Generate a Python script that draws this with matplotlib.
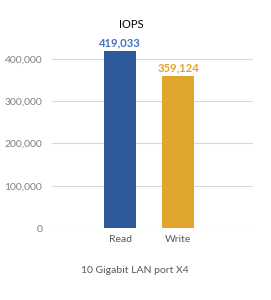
import matplotlib
matplotlib.use("Agg")
import matplotlib.pyplot as plt
from matplotlib.ticker import FuncFormatter

plt.rcParams['font.family'] = ['Lato', 'DejaVu Sans']

categories = ["Read", "Write"]
values = [419033, 359124]
bar_colors = ["#2E5A9C", "#E0A62C"]
label_colors = ["#4472C4", "#E3A22E"]
yticks = [0, 100000, 200000, 300000, 400000]

fig = plt.figure(figsize=(2.71, 3.0), dpi=100)
ax = fig.add_axes([0.192, 0.24, 0.742, 0.62])
x = list(range(len(categories)))
ax.bar(x, values, width=0.55, color=bar_colors, zorder=3)
for xi, v, c in zip(x, values, label_colors):
    ax.text(xi, v + 6000, f"{v:,}", ha="center", va="bottom", color=c,
            fontsize=8, fontweight="bold")
ax.set_xlim(-1.17, 2.29)
ax.set_ylim(0, 440000)
ax.set_yticks(yticks)
ax.yaxis.set_major_formatter(FuncFormatter(lambda v, p: f"{int(v):,}"))
ax.set_xticks(x)
ax.set_xticklabels(categories)
ax.tick_params(axis="both", length=0, labelsize=7.5, colors="#7F7F7F", labelcolor="#595959")
ax.tick_params(axis="y", pad=7, labelcolor="#808080")
ax.tick_params(axis="x", pad=5)
ax.grid(axis="y", color="#D9D9D9", linewidth=0.8, zorder=0)
for s in ax.spines.values():
    s.set_visible(False)
fig.text(0.483, 0.917, "IOPS", ha="center", va="center", fontsize=8, color="#000000")
fig.text(0.498, 0.097, "10 Gigabit LAN port X4", ha="center", va="center",
         fontsize=7.5, color="#595959")
fig.savefig("out.png", dpi=100)
